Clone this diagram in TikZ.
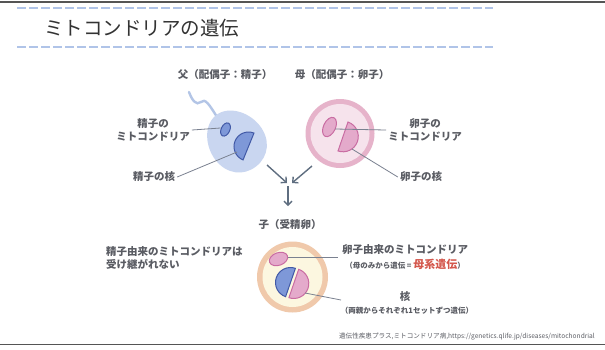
\documentclass[tikz,border=0pt]{standalone}
\usepackage{fontspec}
\setmainfont{Noto Sans CJK JP}
\usetikzlibrary{arrows.meta}

\definecolor{framegray}{HTML}{555555}
\definecolor{rulblue}{HTML}{B0C4E8}
\definecolor{txtgray}{HTML}{5A5C63}
\definecolor{leadgray}{HTML}{7A8190}
\definecolor{arrgray}{HTML}{5F6E80}
\definecolor{spbody}{HTML}{C9D6F0}
\definecolor{sptail}{HTML}{B3C5E6}
\definecolor{bluefill}{HTML}{7E98D8}
\definecolor{bluedark}{HTML}{4159A6}
\definecolor{eggring}{HTML}{E6B3CA}
\definecolor{egginner}{HTML}{F6E3EC}
\definecolor{pinkfill}{HTML}{E4AACB}
\definecolor{pinkdark}{HTML}{C96CA2}
\definecolor{zyring}{HTML}{F0C9AB}
\definecolor{zyinner}{HTML}{FCF7E0}
\definecolor{inhred}{HTML}{D4574C}

\begin{document}
\begin{tikzpicture}[
    x=1pt, y=-1pt,
    lbl/.style={font=\fontsize{10.5}{13}\selectfont\bfseries, text=txtgray,
                inner sep=2pt, align=center},
    note/.style={font=\fontsize{7.5}{9}\selectfont\bfseries, text=txtgray, inner sep=1pt},
    lead/.style={draw=leadgray, line width=0.8pt},
    arr/.style={-{Straight Barb[length=4pt,width=8pt]}, line width=1.4pt, draw=arrgray},
    dashrule/.style={draw=rulblue, dash pattern=on 8.5pt off 3.5pt, line width=1.4pt},
    frame/.style={draw=framegray, line width=1.6pt},
    blueorg/.style={fill=bluefill, draw=bluedark, line width=1pt},
    pinkorg/.style={fill=pinkfill, draw=pinkdark, line width=1pt},
]
\path[fill=white, use as bounding box] (0,0) rectangle (605,349);

% frame and title
\draw[frame] (0,2) -- (605,2);
\draw[frame] (0,344.5) -- (605,344.5);
\foreach \y in {8,47} {
    \draw[dashrule] (17,\y) -- (493,\y);
}
\node[font=\fontsize{19.5}{22}\selectfont, text=black!80, anchor=west, inner sep=0pt]
    (title) at (44,28) {ミトコンドリアの遺伝};

% parents
\node[lbl] (father) at (225,75) {父（配偶子：精子）};
\node[lbl] (mother) at (342,75) {母（配偶子：卵子）};

% sperm
\draw[sptail, line width=2.4pt, line cap=round]
    (189,92) .. controls (192,100) and (196,106) .. (201,102)
    .. controls (205,98) and (209,104) .. (217,117);
\begin{scope}[shift={(237,142)}, y=1pt, rotate=38]
    \fill[spbody] (0,34) .. controls (16,34) and (28,16) .. (28,-1)
        .. controls (28,-19) and (16,-31) .. (0,-31)
        .. controls (-16,-31) and (-28,-19) .. (-28,-1)
        .. controls (-28,16) and (-16,34) .. (0,34);
\end{scope}
\draw[blueorg, rotate around={-25:(225.5,129.5)}] (225.5,129.5) ellipse [x radius=4.3, y radius=7];
\draw[blueorg] (248.5,146.5) ++(292.2:14.5) arc[start angle=292.2, end angle=112.2, radius=14.5] -- cycle;
\coordinate (smito) at (220.5,128);
\coordinate (snuc) at (237,152);

\node[lbl] (smlab) at (153,130) {精子の\\ミトコンドリア};
\node[lbl] (snlab) at (154,177) {精子の核};
\draw[lead] (smlab.east) -- (smito);
\draw[lead] (snlab.east) -- (snuc);

% egg
\fill[eggring] (340,133.5) circle (34.5);
\fill[egginner] (340,133.5) circle (29.5);
\draw[pinkorg, rotate around={-25:(329.5,127)}] (329.5,127) ellipse [x radius=6, y radius=10.3];
\draw[pinkorg] (343,136.5) ++(289:15.3) arc[start angle=289, end angle=469, radius=15.3] -- cycle;
\coordinate (emito) at (335,129);
\coordinate (enuc) at (352,149);

\node[lbl] (emlab) at (425,130) {卵子の\\ミトコンドリア};
\node[lbl] (enlab) at (421,177) {卵子の核};
\draw[lead] (emito) -- (emlab.west);
\draw[lead] (enuc) -- (enlab.west);

% fertilisation arrows
\coordinate (sa) at (267,165);
\coordinate (ea) at (312,166);
\coordinate (sb) at (287,183);
\coordinate (eb) at (292,183);
\coordinate (da) at (288,186);
\coordinate (db) at (288,206);
\draw[arr] (sa) -- (sb);
\draw[arr] (ea) -- (eb);
\draw[arr] (da) -- (db);

% zygote
\node[lbl] (child) at (290,225) {子（受精卵）};
\fill[zyring] (292.5,277) circle (35.5);
\fill[zyinner] (292.5,277) circle (30);
\draw[pinkorg, rotate around={20:(278.5,259)}] (278.5,259) ellipse [x radius=9.5, y radius=6.3];
\draw[blueorg] (290.5,282.5) ++(289:15) arc[start angle=289, end angle=109, radius=15] -- cycle;
\draw[pinkorg] (293.8,283.5) ++(289:15) arc[start angle=289, end angle=469, radius=15] -- cycle;
\coordinate (zmito) at (288,257);
\coordinate (zmend) at (338,257);
\coordinate (znuc) at (305,293);
\coordinate (znend) at (341,300);
\draw[lead] (zmito) -- (zmend);
\draw[lead] (znuc) -- (znend);

\node[lbl, align=left, anchor=west] (lost) at (104,257.5)
    {精子由来のミトコンドリアは\\受け継がれない};
\node[lbl] (zmlab) at (405,250) {卵子由来のミトコンドリア};
\node[note] (zminh) at (405,264)
    {（母のみから遺伝 = {\fontsize{11}{13}\selectfont\color{inhred}母系遺伝}）};
\node[lbl] (znlab) at (405,297) {核};
\node[note] (zninh) at (407,311) {（両親からそれぞれ1セットずつ遺伝）};

% source
\node[font=\fontsize{6.6}{8}\selectfont, text=txtgray, anchor=east, inner sep=0pt]
    (src) at (595,337) {遺伝性疾患プラス,ミトコンドリア病,https://genetics.qlife.jp/diseases/mitochondrial};
\end{tikzpicture}
\end{document}
